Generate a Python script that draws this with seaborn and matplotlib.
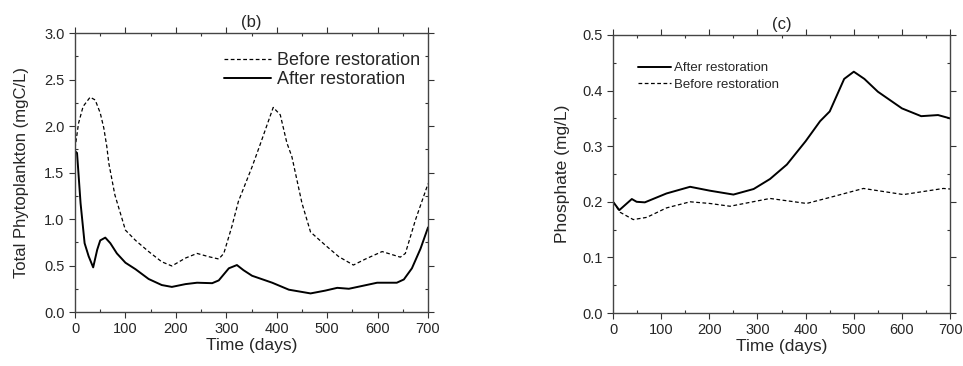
import numpy as np
import pandas as pd
import matplotlib
matplotlib.use("Agg")
import matplotlib.pyplot as plt
from matplotlib.ticker import MultipleLocator, FormatStrFormatter
import seaborn as sns

# (b) total phytoplankton, mgC/L
phyto_before_t = [0, 7, 16, 30, 40, 50, 57, 63, 67, 79, 100, 120, 146, 172, 192, 219,
                  242, 265, 285, 295, 311, 324, 351, 367, 380, 393, 407, 420, 430,
                  450, 467, 496, 523, 552, 576, 609, 645, 655, 675, 700]
phyto_before = [1.76, 2.03, 2.21, 2.31, 2.28, 2.14, 1.98, 1.78, 1.6, 1.26, 0.88, 0.77,
                0.65, 0.54, 0.495, 0.58, 0.63, 0.595, 0.57, 0.63, 0.92, 1.19, 1.56,
                1.8, 2.0, 2.2, 2.12, 1.82, 1.67, 1.17, 0.86, 0.72, 0.595, 0.505, 0.57,
                0.65, 0.59, 0.63, 0.99, 1.38]
phyto_after_t = [0, 4, 11, 19, 27, 36, 44, 50, 60, 70, 83, 100, 120, 146, 172, 192,
                 219, 242, 272, 285, 305, 321, 334, 351, 391, 424, 467, 496, 520, 543,
                 569, 599, 638, 652, 668, 685, 700]
phyto_after = [1.73, 1.71, 1.17, 0.74, 0.6, 0.48, 0.67, 0.77, 0.8, 0.74, 0.63, 0.53,
               0.46, 0.355, 0.29, 0.27, 0.3, 0.315, 0.31, 0.34, 0.47, 0.505, 0.45,
               0.39, 0.315, 0.24, 0.2, 0.23, 0.26, 0.25, 0.28, 0.315, 0.315, 0.35,
               0.47, 0.68, 0.91]

# (c) phosphate, mg/L
phos_after_t = [0, 13, 39, 49, 66, 111, 160, 201, 250, 292, 326, 361, 400, 430, 450,
                480, 500, 522, 550, 600, 640, 675, 700]
phos_after = [0.2, 0.185, 0.205, 0.2, 0.199, 0.215, 0.227, 0.22, 0.213, 0.223, 0.241,
              0.267, 0.309, 0.345, 0.3625, 0.421, 0.434, 0.421, 0.398, 0.368, 0.354,
              0.356, 0.35]
phos_before_t = [0, 15, 42, 70, 111, 160, 201, 243, 326, 402, 451, 520, 603, 686, 700]
phos_before = [0.2, 0.181, 0.168, 0.172, 0.189, 0.2, 0.197, 0.192, 0.206, 0.197, 0.208,
               0.224, 0.213, 0.224, 0.223]

sns.set_style("ticks")
plt.rcParams['font.family'] = ['Liberation Sans', 'DejaVu Sans']

fig = plt.figure(figsize=(9.63, 3.66), dpi=100)
ax1 = fig.add_axes([0.0779, 0.1475, 0.3666, 0.7623])
ax2 = fig.add_axes([0.6366, 0.1448, 0.35, 0.7596])


def style_axis(ax, ymax, ymajor, yminor):
    ax.set_xlim(0, 700)
    ax.set_ylim(0, ymax)
    ax.xaxis.set_major_locator(MultipleLocator(100))
    ax.xaxis.set_minor_locator(MultipleLocator(50))
    ax.yaxis.set_major_locator(MultipleLocator(ymajor))
    ax.yaxis.set_minor_locator(MultipleLocator(yminor))
    ax.yaxis.set_major_formatter(FormatStrFormatter('%.1f'))
    ax.tick_params(which='major', direction='out', length=4, width=0.8,
                   labelsize=10.5, top=True, right=True, color='#333333')
    ax.tick_params(which='minor', direction='in', length=2.5, width=0.8,
                   top=True, right=True, color='#333333')
    ax.tick_params(axis='x', which='both', top=True, direction='in')
    ax.tick_params(axis='x', which='major', bottom=True, direction='out')
    for s in ax.spines.values():
        s.set_linewidth(1.0)
        s.set_color('#444444')
    ax.set_xlabel("Time (days)", fontsize=12.5, labelpad=1)


df_b1 = pd.DataFrame({"t": phyto_before_t, "v": phyto_before})
df_b2 = pd.DataFrame({"t": phyto_after_t, "v": phyto_after})
sns.lineplot(data=df_b1, x="t", y="v", ax=ax1, color='black', lw=0.9,
             linestyle=(0, (3, 2)), label="Before restoration")
sns.lineplot(data=df_b2, x="t", y="v", ax=ax1, color='black', lw=1.4,
             label="After restoration")
style_axis(ax1, 3.0, 0.5, 0.25)
ax1.set_ylabel("Total Phytoplankton (mgC/L)", fontsize=12, labelpad=11)
ax1.set_title("(b)", fontsize=12, pad=4)
ax1.legend(loc='upper right', bbox_to_anchor=(1.0, 0.96), frameon=False,
           fontsize=13, handlelength=2.6, handletextpad=0.3, borderaxespad=0.25,
           borderpad=0.2, labelspacing=0.1)

df_c1 = pd.DataFrame({"t": phos_after_t, "v": phos_after})
df_c2 = pd.DataFrame({"t": phos_before_t, "v": phos_before})
sns.lineplot(data=df_c1, x="t", y="v", ax=ax2, color='black', lw=1.4,
             label="After restoration")
sns.lineplot(data=df_c2, x="t", y="v", ax=ax2, color='black', lw=0.9,
             linestyle=(0, (3, 2)), label="Before restoration")
style_axis(ax2, 0.5, 0.1, 0.05)
ax2.set_ylabel("Phosphate (mg/L)", fontsize=12.5, labelpad=9)
ax2.set_title("(c)", fontsize=12, pad=4)
ax2.legend(loc='upper left', bbox_to_anchor=(0.04, 0.945), frameon=False,
           fontsize=9.5, handlelength=2.5, handletextpad=0.2, labelspacing=0.3)

fig.savefig("out.png", dpi=100)
